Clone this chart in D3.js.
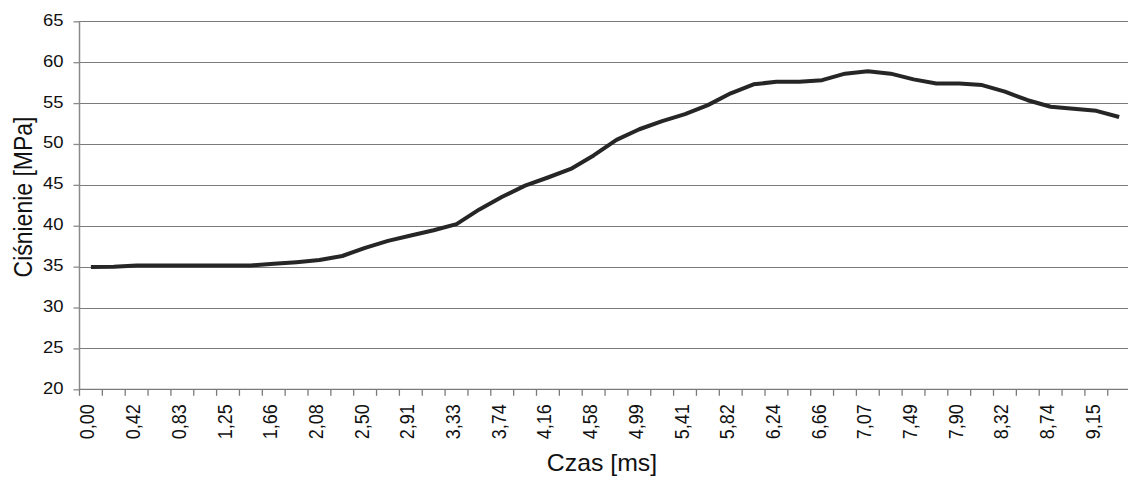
<!DOCTYPE html>
<html>
<head>
<meta charset="utf-8">
<script src="https://cdn.jsdelivr.net/npm/d3@7"></script>
<style>
  html, body { margin: 0; padding: 0; background: #fff; }
  svg { display: block; font-family: "Liberation Sans", Arial, sans-serif; }
</style>
</head>
<body>
<svg id="chart" width="1128" height="478"></svg>
<script>
// Time samples [ms] (category axis)
const czas = ["0,00","0,21","0,42","0,62","0,83","1,04","1,25","1,46","1,66","1,87",
              "2,08","2,29","2,50","2,70","2,91","3,12","3,33","3,54","3,74","3,95",
              "4,16","4,37","4,58","4,78","4,99","5,20","5,41","5,62","5,82","6,03",
              "6,24","6,45","6,66","6,86","7,07","7,28","7,49","7,70","7,90","8,11",
              "8,32","8,53","8,74","8,95","9,15","9,36"];

// Pressure [MPa]
const cisnienie = [34.95, 35.0, 35.15, 35.15, 35.15, 35.15, 35.15, 35.15, 35.35, 35.55,
                   35.8, 36.3, 37.3, 38.15, 38.8, 39.45, 40.2, 42.0, 43.55, 44.9,
                   45.9, 46.95, 48.6, 50.5, 51.8, 52.8, 53.65, 54.75, 56.2, 57.3,
                   57.6, 57.6, 57.8, 58.6, 58.9, 58.6, 57.9, 57.4, 57.4, 57.2,
                   56.4, 55.35, 54.55, 54.3, 54.05, 53.3];

// Value axis ticks
const yTicks = [20, 25, 30, 35, 40, 45, 50, 55, 60, 65];

const svg = d3.select("#chart");
const plotLeft = 79.5, plotTop = 21.3, plotBottom = 389.3, step = 22.85;
const wide = 1.12;   // slightly widened lettering

const x = d3.scaleBand()
  .domain(d3.range(czas.length))
  .range([plotLeft, plotLeft + step * czas.length])
  .paddingInner(0).paddingOuter(0);

const y = d3.scaleLinear().domain([20, 65]).range([plotBottom, plotTop]);

// Horizontal gridlines
svg.append("g")
  .selectAll("line")
  .data(yTicks.filter(d => d !== 20))
  .join("line")
  .attr("x1", plotLeft).attr("x2", 1128)
  .attr("y1", d => Math.round(y(d)) + 0.5).attr("y2", d => Math.round(y(d)) + 0.5)
  .attr("stroke", "#7a7a7a").attr("stroke-width", 1.2);

// Y axis
const yAxis = svg.append("g")
  .attr("transform", `translate(${plotLeft},0)`)
  .call(d3.axisLeft(y).tickValues(yTicks).tickSize(6).tickFormat(d => d));
yAxis.select(".domain").attr("stroke", "#8a8a8a").attr("stroke-width", 1.5)
  .attr("d", `M0,${plotTop}V${plotBottom}`);
yAxis.selectAll(".tick line").attr("stroke", "#8a8a8a").attr("stroke-width", 1.3);
yAxis.selectAll(".tick text")
  .attr("font-size", 16.5).attr("fill", "#111")
  .attr("font-family", "Liberation Sans, Arial, sans-serif")
  .attr("transform", `scale(${wide},1)`)
  .attr("x", -16 / wide).attr("dy", "0.24em");

// X axis line and tick marks at category boundaries
const xAxisG = svg.append("g").attr("transform", `translate(0,${plotBottom})`);
xAxisG.append("line")
  .attr("x1", plotLeft).attr("x2", 1128).attr("y1", 0).attr("y2", 0)
  .attr("stroke", "#7a7a7a").attr("stroke-width", 1.3);
const boundaries = d3.range(czas.length).map(i => x(i));
xAxisG.selectAll("line.tk")
  .data(boundaries)
  .join("line")
  .attr("class", "tk")
  .attr("x1", d => d).attr("x2", d => d)
  .attr("y1", 0).attr("y2", 6.5)
  .attr("stroke", "#7a7a7a").attr("stroke-width", 1.3);

// Category labels (every second sample)
const labelIdx = d3.range(0, czas.length, 2).filter(i => i < czas.length - 1);
const xAxis = svg.append("g")
  .attr("transform", `translate(0,${plotBottom})`)
  .call(d3.axisBottom(x).tickValues(labelIdx).tickSize(0).tickFormat(i => czas[i]));
xAxis.select(".domain").remove();
xAxis.selectAll(".tick text")
  .attr("font-size", 18).attr("fill", "#111")
  .attr("font-family", "Liberation Sans, Arial, sans-serif")
  .attr("text-anchor", "end")
  .attr("transform", `scale(1.1,1) rotate(-90)`)
  .attr("x", -15).attr("y", 3.5 / 1.1).attr("dy", 0);

// Pressure curve
const line = d3.line()
  .x((d, i) => x(i) + x.bandwidth() / 2)
  .y(d => y(d));
svg.append("path")
  .datum(cisnienie)
  .attr("d", line)
  .attr("fill", "none")
  .attr("stroke", "#262626")
  .attr("stroke-width", 4)
  .attr("stroke-linejoin", "round");

// Axis titles
svg.append("text")
  .attr("transform", "translate(602,470.5) scale(1.08,1)")
  .attr("text-anchor", "middle")
  .attr("font-size", 23).attr("fill", "#111")
  .text("Czas [ms]");

svg.append("text")
  .attr("transform", "translate(31.5,197) scale(1.1,1) rotate(-90)")
  .attr("text-anchor", "middle")
  .attr("font-size", 23).attr("fill", "#111")
  .text("Ciśnienie [MPa]");
</script>
</body>
</html>
